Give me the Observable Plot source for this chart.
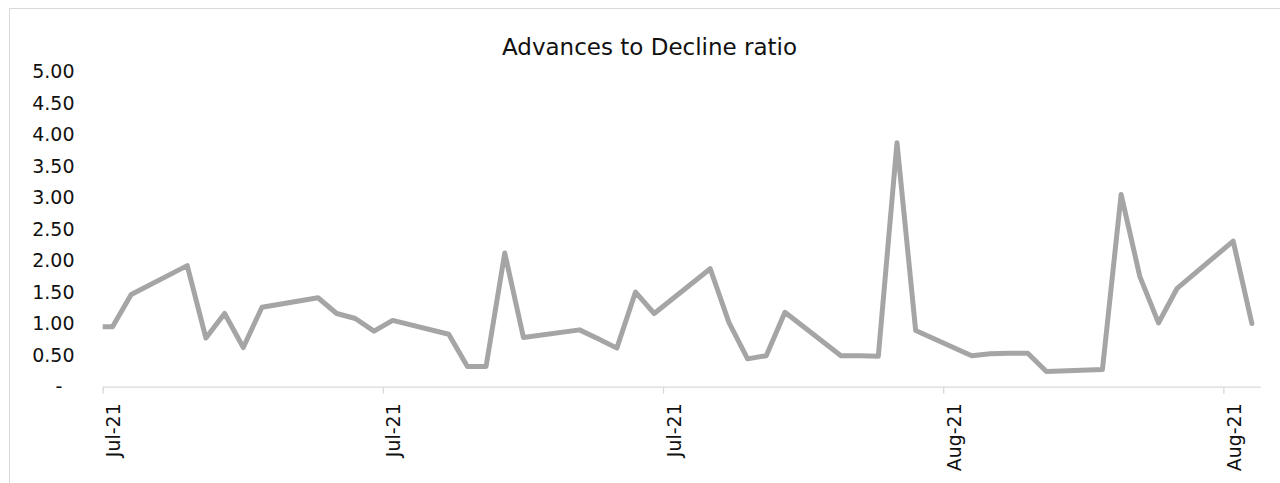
<!DOCTYPE html>
<html>
<head>
<meta charset="utf-8">
<script src="https://cdn.jsdelivr.net/npm/d3@7"></script>
<script src="https://cdn.jsdelivr.net/npm/@observablehq/plot@0.6"></script>
<style>
  html, body { margin: 0; padding: 0; background: #fff; }
  #wrap { position: relative; width: 1280px; height: 483px; overflow: hidden; background: #fff; }
  #frame { position: absolute; left: 9px; top: 8px; width: 1400px; height: 600px; border: 1.5px solid #d9d9d9; box-sizing: border-box; pointer-events: none; }
  #title { position: absolute; left: 0; top: 0; width: 1280px; box-sizing: border-box; padding-top: 34.3px; padding-left: 19px;
           font-family: "DejaVu Sans", Verdana, sans-serif; font-size: 23px; line-height: 27px; text-align: center; color: #111; z-index: 2; }
  #chart { position: absolute; left: 0; top: 0; }
</style>
</head>
<body>
<div id="wrap">
  <div id="frame"></div>
  <div id="chart"></div>
  <div id="title">Advances to Decline ratio</div>
</div>
<script>
// Trading dates (the Jun 30 point lies left of the axis start and is clipped)
const dates = [
  "2021-06-30","2021-07-01","2021-07-02","2021-07-05","2021-07-06","2021-07-07","2021-07-08","2021-07-09",
  "2021-07-12","2021-07-13","2021-07-14","2021-07-15","2021-07-16",
  "2021-07-19","2021-07-20","2021-07-21","2021-07-22","2021-07-23",
  "2021-07-26","2021-07-27","2021-07-28","2021-07-29","2021-07-30",
  "2021-08-02","2021-08-03","2021-08-04","2021-08-05","2021-08-06",
  "2021-08-09","2021-08-10","2021-08-11","2021-08-12","2021-08-13",
  "2021-08-16","2021-08-17","2021-08-18","2021-08-19","2021-08-20",
  "2021-08-23","2021-08-24","2021-08-25","2021-08-26","2021-08-27",
  "2021-08-30","2021-08-31"
];
const ratios = [
  0.96, 0.96, 1.47, 1.93, 0.78, 1.17, 0.63, 1.27,
  1.42, 1.17, 1.09, 0.89, 1.06,
  0.84, 0.33, 0.33, 2.13, 0.79,
  0.91, 0.77, 0.62, 1.51, 1.17,
  1.88, 1.03, 0.45, 0.50, 1.19,
  0.50, 0.50, 0.49, 3.88, 0.90,
  0.50, 0.53, 0.54, 0.54, 0.25,
  0.28, 3.06, 1.76, 1.02, 1.57,
  2.32, 1.01
];
const xTickDates = ["2021-07-01","2021-07-16","2021-07-31","2021-08-15","2021-08-30"];
const xTickLabels = ["Jul-21","Jul-21","Jul-21","Aug-21","Aug-21"];
const yTicks = [0, 0.5, 1, 1.5, 2, 2.5, 3, 3.5, 4, 4.5, 5];
const yTickLabels = ["-\u2007","0.50","1.00","1.50","2.00","2.50","3.00","3.50","4.00","4.50","5.00"];
const xDomain = ["2021-07-01","2021-09-01"];

const HALF_DAY = 12 * 3600 * 1000;
const data = dates.map((d, i) => ({date: new Date(d + "T00:00:00Z"), value: ratios[i]}));
const xTicks = xTickDates.map(d => new Date(d + "T00:00:00Z"));
const xLabelMap = new Map(xTicks.map((d, i) => [+d, xTickLabels[i]]));
const yLabelMap = new Map(yTicks.map((v, i) => [v, yTickLabels[i]]));

const chart = Plot.plot({
  width: 1280,
  height: 483,
  marginTop: 71.7,
  marginBottom: 96.3,
  marginLeft: 102.7,
  marginRight: 19.3,
  style: {fontFamily: "DejaVu Sans, Verdana, sans-serif", fontSize: "19px", color: "#111", background: "transparent"},
  x: {type: "utc", domain: xDomain.map(d => new Date(d + "T00:00:00Z"))},
  y: {domain: [0, 5]},
  marks: [
    Plot.ruleY([0], {stroke: "#d9d9d9", strokeWidth: 1.3}),
    Plot.axisY({ticks: yTicks, tickSize: 0, tickPadding: 28.7, tickFormat: v => yLabelMap.get(v), fill: "#111", label: null}),
    // tick marks only
    Plot.axisX({ticks: xTicks, tickSize: 7, tickFormat: () => "", stroke: "#d9d9d9", strokeWidth: 1.3, label: null}),
    // labels only, rotated
    Plot.axisX({ticks: xTicks, tickSize: 0, tickPadding: 16, tickRotate: -90, dx: 11,
                tickFormat: d => xLabelMap.get(+d), fill: "#111", label: null}),
    Plot.lineY(data, {
      x: d => new Date(+d.date + HALF_DAY),
      y: "value",
      stroke: "#a5a5a5",
      strokeWidth: 5,
      strokeLinejoin: "round",
      strokeLinecap: "round",
      clip: true
    })
  ]
});
document.getElementById("chart").appendChild(chart);
</script>
</body>
</html>
